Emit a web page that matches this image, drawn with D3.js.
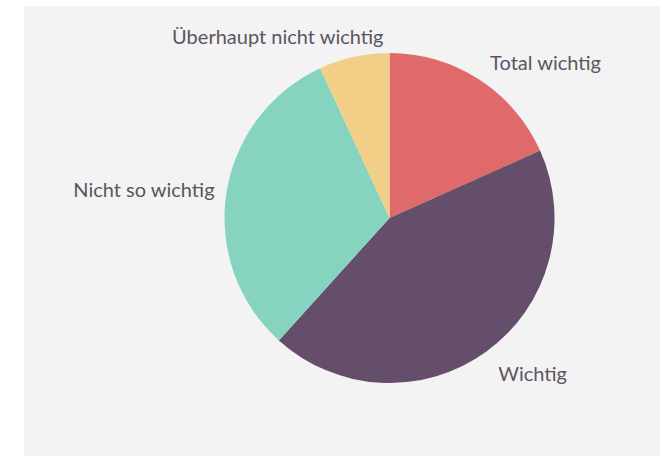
<!DOCTYPE html>
<html>
<head>
  <style type="text/css">
    body { margin: 0; background: #fff; }
    .label {
      font: 20px Lato, "Open Sans", sans-serif;
      fill: #5d5463;
    }
  </style>
</head>
<body>
  <div class="svg_container"></div>

  <script src="https://cdnjs.cloudflare.com/ajax/libs/d3/7.8.5/d3.min.js"></script>
  <script type="text/javascript">
    // data
    var categories = ["Total wichtig", "Wichtig", "Nicht so wichtig", "Überhaupt nicht wichtig"];
    var values = [18.3, 43.4, 31.4, 6.9];
    var colors = ["#e06a69", "#654e69", "#86d3c0", "#f2cf87"];

    var width = 669, height = 456;
    var cx = 389.5, cy = 218, radius = 165;

    var svg = d3.select(".svg_container").append("svg")
      .attr("width", width)
      .attr("height", height);

    // grey panel behind the chart
    svg.append("rect")
      .attr("x", 24)
      .attr("y", 6)
      .attr("width", 636)
      .attr("height", 450)
      .attr("fill", "#f3f3f3");

    var g = svg.append("g")
      .attr("transform", "translate(" + cx + "," + cy + ")");

    var data = categories.map(function(c, i) {
      return { name: c, value: values[i], color: colors[i] };
    });

    var pie = d3.pie()
      .sort(null)
      .value(function(d) { return d.value; });

    var arc = d3.arc()
      .innerRadius(0)
      .outerRadius(radius);

    var labelArc = d3.arc()
      .innerRadius(radius + 20)
      .outerRadius(radius + 20);

    var arcs = pie(data);

    g.selectAll(".slice")
      .data(arcs)
      .enter().append("path")
      .attr("class", "slice")
      .attr("d", arc)
      .attr("fill", function(d) { return d.data.color; });

    // labels sit just outside each slice's middle
    g.selectAll(".label")
      .data(arcs)
      .enter().append("text")
      .attr("class", "label")
      .attr("transform", function(d) {
        var p = labelArc.centroid(d);
        var mid = (d.startAngle + d.endAngle) / 2;
        // the small top slice label is pulled back to the pie's centre line
        if (Math.abs(Math.sin(mid)) < 0.3) p[0] = -6;
        // side labels hug the pie a little closer
        if (Math.abs(Math.sin(mid)) > 0.9) p[0] += (p[0] < 0 ? 8 : -8);
        // lower labels drop a bit
        if (p[1] > 0) p[1] += 6;
        return "translate(" + p + ")";
      })
      .attr("dy", "0.35em")
      .attr("text-anchor", function(d) {
        var mid = (d.startAngle + d.endAngle) / 2;
        return mid > Math.PI ? "end" : "start";
      })
      .text(function(d) { return d.data.name; });
  </script>
</body>
</html>
